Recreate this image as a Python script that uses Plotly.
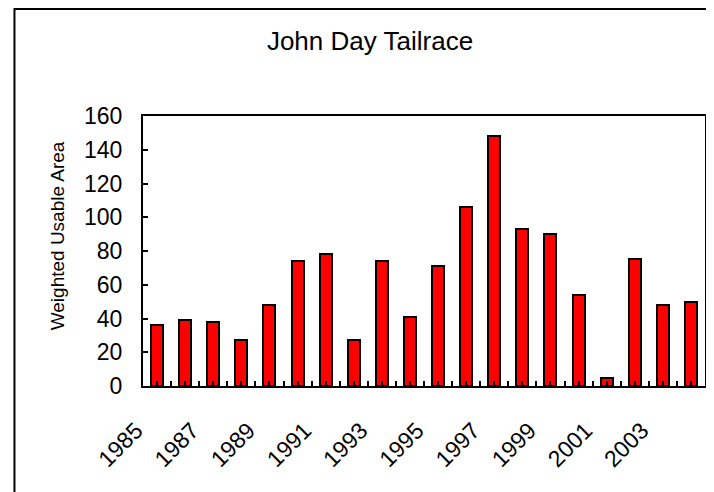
import plotly.graph_objects as go

years = list(range(1985, 2005))
wua = [36, 39, 38, 27, 48, 74, 78, 27, 74, 41, 71, 106, 148, 93, 90, 54, 4.5, 75, 48, 49.6]
label_years = [1985, 1987, 1989, 1991, 1993, 1995, 1997, 1999, 2001, 2003]
label_text = [str(y) for y in label_years]
y_title = "Weighted Usable Area"

W, H = 706, 484
ML, MR, MT, MB = 135, 7, 108, 106
FONT = "Liberation Sans, Arial, sans-serif"

fig = go.Figure(go.Bar(
    x=years, y=wua, width=0.43,
    marker=dict(color="#ff0000", line=dict(color="black", width=2)),
))

pw = W - ML - MR
ph = H - MT - MB
# outer chart-area border in paper coordinates
fig.add_shape(type="rect", xref="paper", yref="paper",
              x0=(6 - ML) / pw, x1=(W + 20 - ML) / pw,
              y0=-(H + 20 - MT - ph) / ph, y1=(H - MB - 1) / ph,
              line=dict(color="black", width=2), fillcolor="rgba(0,0,0,0)", layer="below")

fig.add_annotation(text=y_title, textangle=-90, showarrow=False,
                   xref="paper", yref="paper",
                   x=(49 - ML) / pw, y=(H - MB - 228) / ph,
                   xanchor="center", yanchor="middle",
                   font=dict(size=19, family=FONT, color="black"))

fig.update_layout(
    width=W, height=H,
    margin=dict(l=ML, r=MR, t=MT, b=MB),
    paper_bgcolor="white", plot_bgcolor="white",
    showlegend=False,
    font=dict(family=FONT, color="black"),
    title=dict(text="John Day Tailrace", x=362 / W, xanchor="center",
               y=1 - 33 / H, yanchor="middle", font=dict(size=26, family=FONT)),
    bargap=0,
)
fig.update_xaxes(
    range=[1984.5, 2004.5], tickmode="array", tickvals=label_years, ticktext=label_text,
    tickangle=-45, ticks="inside", ticklen=5, tickwidth=1.5, tickcolor="black",
    minor=dict(dtick=0.5, tick0=1984.5, ticks="inside", ticklen=5, tickwidth=1.5, tickcolor="black"),
    showline=True, linecolor="black", linewidth=2, mirror=True,
    showgrid=False, zeroline=False, tickfont=dict(size=23, family=FONT),
    ticklabelshift=-21, ticklabelstandoff=20,
)
fig.update_yaxes(
    range=[0, 160], dtick=20, ticks="inside", ticklen=5, tickwidth=1.5, tickcolor="black",
    showline=True, linecolor="black", linewidth=2, mirror=True,
    showgrid=False, zeroline=False, tickfont=dict(size=23, family=FONT),
    ticklabelstandoff=14,
)
fig.write_html("out.html")
